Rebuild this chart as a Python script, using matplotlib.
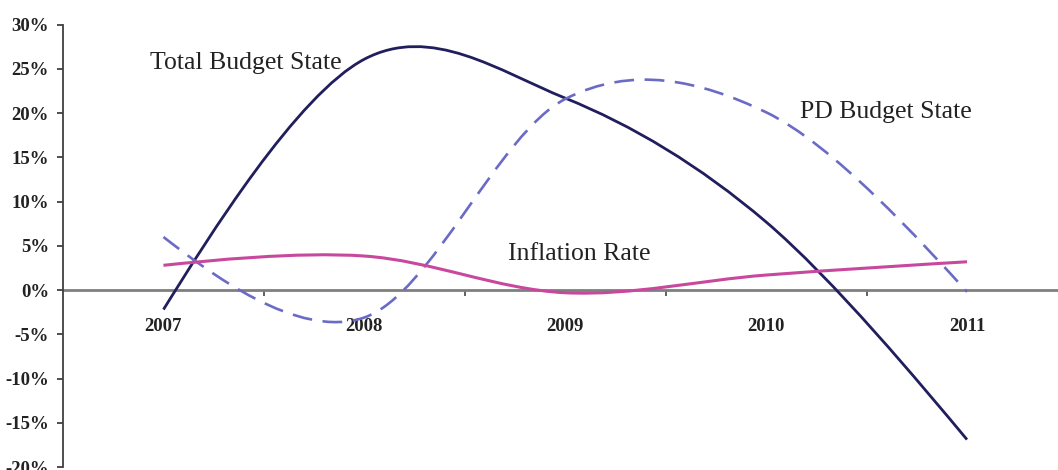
import matplotlib
matplotlib.use("Agg")
import matplotlib.pyplot as plt
from matplotlib.path import Path
from matplotlib.patches import PathPatch
from matplotlib.ticker import FuncFormatter, FixedLocator
import numpy as np

years = ["2007", "2008", "2009", "2010", "2011"]
total_budget = [-2.2, 26.1, 21.7, 7.7, -16.9]
pd_budget = [6.0, -3.1, 21.6, 20.1, -0.2]
inflation = [2.8, 3.85, -0.3, 1.7, 3.2]
y_ticks = [-20, -15, -10, -5, 0, 5, 10, 15, 20, 25, 30]


def smooth_path(xs, ys):
    """Excel-like smoothed line: cubic Bezier segments (Catmull-Rom tangents)."""
    P = np.column_stack([xs, ys]).astype(float)
    n = len(P)
    verts = [P[0]]
    codes = [Path.MOVETO]
    for i in range(n - 1):
        p0, p1 = P[i], P[i + 1]
        c1 = p0 + (P[i + 1] - P[i - 1]) / 6 if i > 0 else None
        c2 = p1 - (P[i + 2] - P[i]) / 6 if i + 2 < n else None
        if c1 is None:
            c1 = p0 + (c2 - p0) / 3
        if c2 is None:
            c2 = p1 + (c1 - p1) / 3
        verts += [c1, c2, p1]
        codes += [Path.CURVE4] * 3
    return Path(np.array(verts), codes)


fig = plt.figure(figsize=(10.58, 4.70), dpi=100)
ax = fig.add_axes([63 / 1058, 3 / 470, 1 - 63 / 1058, (467 - 24.7) / 470])

x = np.arange(len(years))
ax.set_xlim(-0.5, 4.453)
ax.set_ylim(-20, 30)

series = [
    (total_budget, "#201e5c", 2.0, "-"),
    (pd_budget, "#6b6bc6", 1.9, (0, (7.5, 4))),
    (inflation, "#c8489e", 2.2, "-"),
]
for vals, col, lw, ls in series:
    patch = PathPatch(smooth_path(x, vals), fill=False, edgecolor=col,
                      lw=lw, linestyle=ls, transform=ax.transData, zorder=3,
                      capstyle="butt", joinstyle="round")
    ax.add_patch(patch)

# spines
for s in ["top", "right"]:
    ax.spines[s].set_visible(False)
ax.spines["bottom"].set_position(("data", 0))
ax.spines["bottom"].set_color("#7f7f7f")
ax.spines["bottom"].set_linewidth(2.0)
ax.spines["bottom"].set_zorder(2)
ax.spines["left"].set_color("#404040")
ax.spines["left"].set_linewidth(1.3)

tick_font = dict(family="Liberation Serif", size=13.5, weight="bold")

ax.set_yticks(y_ticks)
ax.yaxis.set_major_formatter(FuncFormatter(lambda v, p: f"{int(v)}%"))
ax.tick_params(axis="y", direction="out", length=4, width=1.3,
               color="#404040", pad=6, labelcolor="#222222")
for lab in ax.get_yticklabels():
    lab.set_fontproperties(matplotlib.font_manager.FontProperties(**tick_font))

ax.set_xticks(x)
ax.set_xticklabels(years)
ax.tick_params(axis="x", which="major", length=0, pad=20, labelcolor="#222222")
for lab in ax.get_xticklabels():
    lab.set_fontproperties(matplotlib.font_manager.FontProperties(**tick_font))
ax.xaxis.set_minor_locator(FixedLocator([0.5, 1.5, 2.5, 3.5]))
ax.tick_params(axis="x", which="minor", direction="out", length=4, width=1.3,
               color="#555555")

ann = dict(family="Liberation Serif", size=18.5, color="#222222", va="baseline")
ax.text(-0.065, 25.0, "Total Budget State", **ann)
ax.text(3.17, 19.5, "PD Budget State", **ann)
ax.text(1.716, 3.4, "Inflation Rate", **ann)

fig.savefig("out.png", dpi=100)
